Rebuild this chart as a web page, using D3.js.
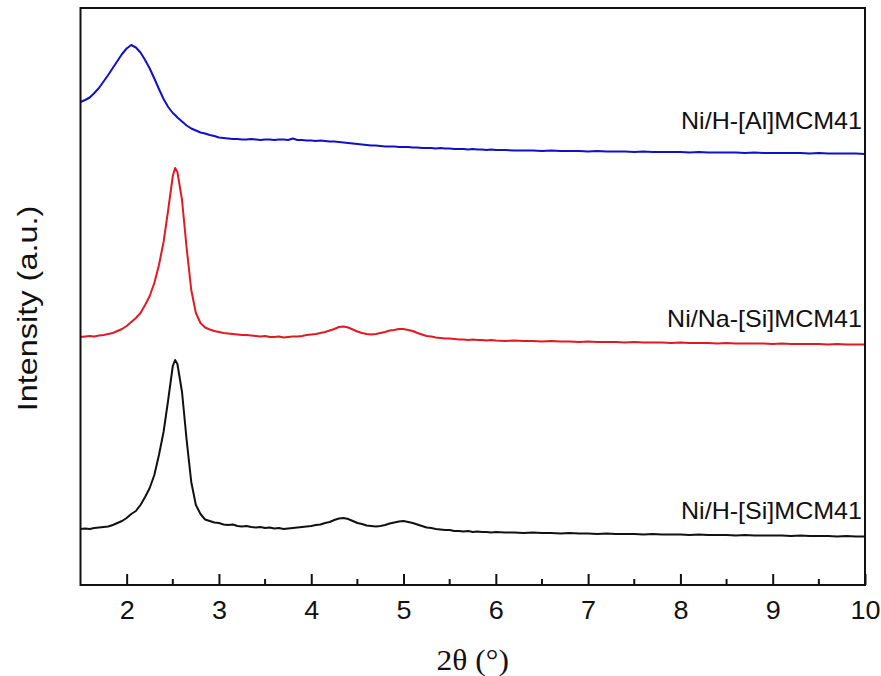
<!DOCTYPE html>
<html>
<head>
<meta charset="utf-8">
<script src="https://cdn.jsdelivr.net/npm/d3@7"></script>
<style>
  body { margin: 0; background: #fff; }
  text { font-family: "Liberation Sans", Arial, sans-serif; fill: #111; }
</style>
</head>
<body>
<div id="container"></div>
<script>
let width = 881;
let height = 676;

// 2theta (degrees)
let twoTheta = [
  1.50, 1.55, 1.60, 1.65, 1.70, 1.75, 1.80, 1.85, 1.90, 1.95,
  2.00, 2.05, 2.10, 2.15, 2.20, 2.25, 2.30, 2.35, 2.40, 2.45,
  2.50, 2.525, 2.55, 2.60, 2.65, 2.70, 2.75, 2.80, 2.85, 2.90,
  2.95, 3.00,
  3.05, 3.10, 3.15, 3.20, 3.25, 3.30, 3.35, 3.40, 3.45, 3.50,
  3.55, 3.60, 3.65, 3.70, 3.75, 3.80, 3.85, 3.90, 3.95, 4.00,
  4.05, 4.10, 4.15, 4.20, 4.25, 4.30, 4.35, 4.40, 4.45, 4.50,
  4.55, 4.60, 4.65, 4.70, 4.75, 4.80, 4.85, 4.90, 4.95, 5.00,
  5.05, 5.10, 5.15, 5.20, 5.25, 5.30, 5.35, 5.40, 5.45, 5.50,
  5.55, 5.60, 5.65, 5.70, 5.75, 5.80, 5.85, 5.90, 5.95, 6.00,
  6.1, 6.2, 6.3, 6.4, 6.5, 6.6, 6.7, 6.8, 6.9, 7.0,
  7.1, 7.2, 7.3, 7.4, 7.5, 7.6, 7.7, 7.8, 7.9, 8.0,
  8.1, 8.2, 8.3, 8.4, 8.5, 8.6, 8.7, 8.8, 8.9, 9.0,
  9.1, 9.2, 9.3, 9.4, 9.5, 9.6, 9.7, 9.8, 9.9, 10.0
];

// intensities (a.u., stacked with offsets as in the figure)
let siH = [
  56, 56.5, 56, 57, 57.5, 58, 58.5, 60, 62, 64,
  67, 71, 74, 80, 88, 97, 110, 130, 153, 185,
  219, 225, 221, 193, 145, 103, 80, 71, 65.5, 64,
  62.5, 62,
  60.5, 60, 60.5, 59, 58.5, 59, 58, 57.5, 58, 57,
  57.5, 56.5, 57, 56, 56.5, 57, 57.5, 58, 58.5, 59,
  60, 60.5, 62, 63, 65, 66.5, 67, 66, 64, 62,
  61, 59.5, 59, 58.5, 59, 60, 61.5, 62.5, 63.5, 64,
  63, 62, 60.5, 59, 57.5, 57, 56, 55.5, 55, 55,
  54, 54, 53.5, 54, 53, 53.5, 53, 53, 52.5, 53,
  52.5, 52.5, 52, 52.5, 52, 52, 51.5, 52, 51.5, 51.5,
  51, 51.5, 51, 51, 51, 50.5, 51, 50.5, 50.5, 50.5,
  50, 50.5, 50, 50, 50, 49.5, 50, 49.5, 49.5, 49.5,
  49.5, 49, 49.5, 49, 49, 49, 48.5, 49, 48.5, 48.5
];

let siNa = [
  248, 248.5, 249, 248.5, 249.5, 250, 251, 252, 254, 256,
  259, 263, 267, 272, 280, 289, 302, 320, 343, 375,
  409, 417, 413, 385, 337, 295, 272, 262, 257.5, 255.5,
  254, 253,
  252, 251.5, 251, 250.5, 250, 250, 249.5, 249, 248.5, 249,
  248, 248, 248.5, 247.5, 248, 248.5, 248.5, 249, 250, 250.5,
  251, 252, 253, 254.5, 256, 258, 258.5, 257.5, 255.5, 253.5,
  252, 251, 250.5, 251, 252, 253, 254.5, 255, 256, 256,
  255, 254, 252, 250.5, 249, 248.5, 247.5, 247, 246.5, 246.5,
  246, 245.5, 245.5, 245, 245.5, 245, 245, 244.5, 245, 244.5,
  244, 244.5, 244, 244, 243.5, 244, 243.5, 243.5, 243, 243.5,
  243, 243, 243, 242.5, 243, 242.5, 242.5, 242.5, 242, 242.5,
  242, 242, 242, 241.5, 242, 241.5, 241.5, 241.5, 241.5, 241,
  241.5, 241, 241, 241, 241, 240.5, 241, 240.5, 240.5, 240.5
];

let alH = [
  483, 485, 487.5, 492, 497, 503.5, 510, 517, 524, 531,
  536.5, 540, 537.5, 532.5, 525, 516.5, 506.5, 496, 486, 478,
  472, 470, 467.5, 463.5, 459.5, 456.5, 454.5, 452.5, 451.5, 450,
  449, 447.5,
  447, 446.5, 446, 446, 445.5, 445.5, 446, 445.5, 445, 445.5,
  445.5, 445, 445.5, 445.5, 445, 446.5, 445, 445, 444.5, 444.5,
  444, 444.5, 444, 443.5, 443.5, 443, 442.5, 442, 441.5, 441,
  440.5, 440, 439.5, 439.5, 439, 438.5, 438.5, 438.5, 438, 438,
  438, 437.5, 437.5, 437, 437, 437, 436.5, 437, 436.5, 436.5,
  436, 436, 436, 435.5, 436, 435.5, 435.5, 435, 435.5, 435,
  435, 434.5, 434.5, 434.5, 434, 434.5, 434, 434, 434, 433.5,
  434, 433.5, 433.5, 433.5, 433, 433.5, 433, 433, 433, 433,
  432.5, 433, 432.5, 432.5, 432.5, 432.5, 432, 432.5, 432, 432,
  432, 432, 432, 431.5, 432, 431.5, 431.5, 431.5, 431.5, 431
];

let seriesNames = ["Ni/H-[Al]MCM41", "Ni/Na-[Si]MCM41", "Ni/H-[Si]MCM41"];
let seriesValues = [alH, siNa, siH];
let seriesColors = ["#1010c8", "#e01a22", "#111111"];
// label baseline level, in a.u.
let labelLevels = [456, 258, 66];

let xTicks = [2, 3, 4, 5, 6, 7, 8, 9, 10];
let xMinorTicks = [2.5, 3.5, 4.5, 5.5, 6.5, 7.5, 8.5, 9.5];

// plot box
let plotLeft = 80.5, plotRight = 865, plotTop = 8, plotBottom = 585;

let svg = d3.select("#container")
  .append("svg")
  .attr("width", width)
  .attr("height", height);

let x = d3.scaleLinear().domain([1.5, 10]).range([plotLeft, plotRight]);
let y = d3.scaleLinear().domain([0, 577]).range([plotBottom, plotTop]);

// curves
let line = d3.line()
  .x((d) => x(d[0]))
  .y((d) => y(d[1]));

seriesValues.forEach(function (vals, i) {
  let pts = twoTheta.map((t, j) => [t, vals[j]]);
  svg.append("path")
    .attr("d", line(pts))
    .attr("fill", "none")
    .attr("stroke", seriesColors[i])
    .attr("stroke-width", 2)
    .attr("stroke-linejoin", "round");
});

// frame
svg.append("rect")
  .attr("x", plotLeft)
  .attr("y", plotTop)
  .attr("width", plotRight - plotLeft)
  .attr("height", plotBottom - plotTop)
  .attr("fill", "none")
  .attr("stroke", "#111")
  .attr("stroke-width", 2);

// bottom axis, ticks pointing inward
let xAxis = d3.axisBottom(x)
  .tickValues(xTicks)
  .tickSizeInner(-11)
  .tickSizeOuter(0)
  .tickPadding(0)
  .tickFormat(d3.format("d"));

let gx = svg.append("g")
  .attr("transform", `translate(0,${plotBottom})`)
  .call(xAxis);
gx.select(".domain").remove();
gx.selectAll(".tick line").attr("stroke", "#111").attr("stroke-width", 2);
gx.selectAll(".tick text")
  .attr("y", 34)
  .attr("dy", 0)
  .attr("transform", "scale(1.08,1)")
  .attr("x", 0)
  .style("font-size", "25px")
  .attr("fill", "#111");

svg.append("g")
  .selectAll("line")
  .data(xMinorTicks)
  .join("line")
  .attr("x1", (d) => x(d))
  .attr("x2", (d) => x(d))
  .attr("y1", plotBottom)
  .attr("y2", plotBottom - 6)
  .attr("stroke", "#111")
  .attr("stroke-width", 2);

// series labels
svg.append("g")
  .selectAll("g")
  .data(seriesNames)
  .join("g")
  .attr("transform", (d, i) => `translate(${plotRight - 3},${y(labelLevels[i])})`)
  .append("text")
  .attr("text-anchor", "end")
  .attr("transform", "scale(1.09,1)")
  .style("font-size", "23px")
  .text((d) => d);

// axis titles
svg.append("g")
  .attr("transform", `translate(${(plotLeft + plotRight) / 2},670)`)
  .append("text")
  .attr("text-anchor", "middle")
  .attr("transform", "scale(1.05,1)")
  .style("font-family", "'Liberation Serif', 'Times New Roman', serif")
  .style("font-size", "30px")
  .text("2\u03b8 (\u00b0)");

svg.append("g")
  .attr("transform", `translate(37,${(plotTop + plotBottom) / 2 + 12}) rotate(-90)`)
  .append("text")
  .attr("text-anchor", "middle")
  .attr("transform", "scale(1.16,1)")
  .style("font-size", "28px")
  .text("Intensity (a.u.)");
</script>
</body>
</html>
